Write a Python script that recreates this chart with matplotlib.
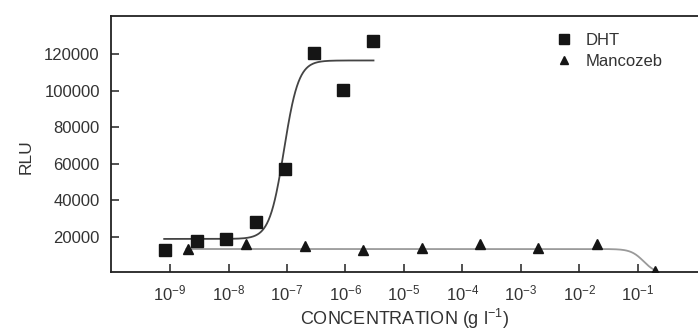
import numpy as np
import matplotlib
matplotlib.use('Agg')
import matplotlib.pyplot as plt

# DHT points (g/l, RLU)
dht_conc = [8.2e-10, 2.9e-9, 8.9e-9, 2.9e-8, 9.2e-8, 2.9e-7, 9.2e-7, 3.0e-6]
dht_rlu = [12900, 17800, 19000, 28200, 57100, 120500, 100300, 127000]

# Mancozeb points
manc_conc = [2e-9, 2e-8, 2e-7, 2e-6, 2e-5, 2e-4, 2e-3, 2e-2, 2e-1]
manc_rlu = [13400, 16000, 15000, 12900, 14000, 16500, 14000, 16000, 1400]

# fitted dose response curves: bottom, top, log EC50, hill slope, log range
dht_fit = [19000, 116500, -7.05, 3.5, -9.1, -5.52]
manc_fit = [0, 13500, -0.9, 4.0, -8.72, -0.69]

xtick_exp = [-9, -8, -7, -6, -5, -4, -3, -2, -1]
yticks = [20000, 40000, 60000, 80000, 100000, 120000]


def hill(fit, n=400):
    bottom, top, logec, h, lo, hi = fit
    lx = np.linspace(lo, hi, n)
    return 10 ** lx, bottom + (top - bottom) / (1 + 10 ** ((logec - lx) * h))


def hill_down(fit, n=400):
    bottom, top, logec, h, lo, hi = fit
    lx = np.linspace(lo, hi, n)
    return 10 ** lx, bottom + (top - bottom) / (1 + 10 ** ((lx - logec) * h))


plt.rcParams['font.family'] = ['Liberation Sans', 'DejaVu Sans']
plt.rcParams['mathtext.fontset'] = 'custom'
plt.rcParams['mathtext.rm'] = 'Liberation Sans'
plt.rcParams['mathtext.it'] = 'Liberation Sans'

txt = '#333333'
fig = plt.figure(figsize=(6.98, 3.33), dpi=100)
ax = fig.add_axes([0.159, 0.183, 0.841, 0.769])

x, y = hill_down(manc_fit)
ax.plot(x, y, color='#9a9a9a', lw=1.3, zorder=1)
x, y = hill(dht_fit)
ax.plot(x, y, color='#444444', lw=1.3, zorder=2)

ax.plot(dht_conc, dht_rlu, 's', color='#151515', ms=9, label='DHT', zorder=3)
ax.plot(manc_conc, manc_rlu, '^', color='#151515', ms=7, label='Mancozeb', zorder=3)

ax.set_xscale('log')
ax.set_xlim(10 ** -10.01, 10 ** 0.03)
ax.set_ylim(900, 140800)

ax.set_xticks([10.0 ** e for e in xtick_exp])
ax.set_xticklabels([r'$10^{%d}$' % e for e in xtick_exp])
ax.xaxis.set_minor_locator(matplotlib.ticker.NullLocator())
ax.set_yticks(yticks)
ax.set_yticklabels([str(v) for v in yticks])

ax.tick_params(direction='in', length=6, width=1.1, colors='#222222',
               labelcolor=txt, labelsize=12)
ax.tick_params(axis='y', pad=8)
ax.tick_params(axis='x', pad=8)

for s in ['left', 'bottom', 'top']:
    ax.spines[s].set_linewidth(1.3)
    ax.spines[s].set_color('#222222')
ax.spines['right'].set_visible(False)

ax.set_xlabel(r'CONCENTRATION (g l$^{-1}$)', fontsize=13, color=txt, labelpad=3)
ax.set_ylabel('RLU', fontsize=12.5, color=txt, labelpad=6)
ax.yaxis.set_label_coords(-0.132, 0.45)

ax.legend(loc='upper left', bbox_to_anchor=(0.775, 0.945), bbox_transform=fig.transFigure,
          frameon=False, handlelength=1.0, handletextpad=0.8, labelspacing=0.35,
          markerscale=0.85, fontsize=12, labelcolor=txt)

fig.savefig('out.png', dpi=100)
